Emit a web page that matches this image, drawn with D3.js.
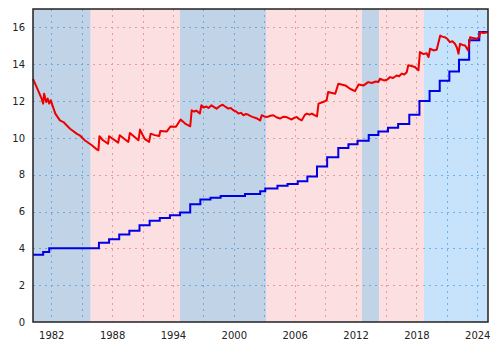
<!DOCTYPE html>
<html>
<head>
<meta charset="utf-8">
<script src="https://cdn.jsdelivr.net/npm/d3@7"></script>
<style>
  body { margin: 0; background: #fff; }
  text { font-family: "DejaVu Sans", sans-serif; font-size: 10px; fill: #222; }
</style>
</head>
<body>
<svg id="svg" width="500" height="350"></svg>
<script>
// nominal wage, steps (year the new rate starts)
var nomYears = [1980.2, 1981.2, 1981.8, 1986.7, 1987.7, 1988.7, 1989.7, 1990.7, 1991.7, 1992.7,
  1993.7, 1994.7, 1995.7, 1996.7, 1997.7, 1998.7, 2001.1, 2002.6, 2003.1, 2004.3,
  2005.3, 2006.3, 2007.25, 2008.2, 2009.2, 2010.3, 2011.3, 2012.2, 2013.3, 2014.25,
  2015.2, 2016.2, 2017.3, 2018.3, 2019.3, 2020.3, 2021.25, 2022.2, 2023.2, 2024.2, 2025.06];
var nomValues = [3.65, 3.80, 4.00, 4.30, 4.50, 4.75, 4.95, 5.25, 5.50, 5.65,
  5.80, 5.95, 6.40, 6.65, 6.75, 6.85, 6.95, 7.10, 7.25, 7.40,
  7.50, 7.65, 7.90, 8.45, 8.95, 9.45, 9.65, 9.85, 10.15, 10.35,
  10.55, 10.75, 11.25, 12.00, 12.55, 13.10, 13.60, 14.25, 15.30, 15.75, 15.75];

// real wage (inflation adjusted)
var realYears = [1980.2, 1980.7, 1981.05, 1981.2, 1981.3, 1981.5, 1981.65, 1981.8, 1981.95, 1982.4,
  1982.85, 1983.2, 1983.85, 1984.5, 1984.8, 1985.3, 1986.0, 1986.5, 1986.65, 1986.75,
  1987.1, 1987.6, 1987.7, 1988.6, 1988.75, 1989.6, 1989.75, 1990.6, 1990.75, 1991.2,
  1991.65, 1991.8, 1992.2, 1992.65, 1992.75, 1993.4, 1993.75, 1994.3, 1994.75, 1995.2,
  1995.7, 1995.85, 1996.1, 1996.3, 1996.65, 1996.8, 1997.0, 1997.3, 1997.5, 1997.8,
  1998.1, 1998.3, 1998.6, 1998.9, 1999.2, 1999.45, 1999.7, 1999.95, 2000.2, 2000.45,
  2000.7, 2000.95, 2001.2, 2001.4, 2001.65, 2001.9, 2002.3, 2002.6, 2002.75, 2003.0,
  2003.25, 2003.6, 2003.9, 2004.2, 2004.55, 2004.9, 2005.2, 2005.45, 2005.7, 2006.0,
  2006.2, 2006.45, 2006.7, 2007.0, 2007.2, 2007.45, 2007.7, 2008.0, 2008.2, 2008.35,
  2008.8, 2009.15, 2009.3, 2009.6, 2010.0, 2010.3, 2010.6, 2011.0, 2011.45, 2011.95,
  2012.3, 2012.8, 2013.25, 2013.6, 2014.0, 2014.25, 2014.4, 2014.8, 2015.1, 2015.4,
  2015.7, 2016.05, 2016.3, 2016.55, 2016.8, 2017.05, 2017.2, 2017.5, 2017.85, 2018.2,
  2018.35, 2018.7, 2019.0, 2019.2, 2019.35, 2019.7, 2020.0, 2020.35, 2020.55, 2020.8,
  2021.05, 2021.3, 2021.55, 2021.8, 2022.0, 2022.15, 2022.3, 2022.55, 2022.8, 2023.1,
  2023.3, 2023.6, 2023.9, 2024.2, 2024.3, 2024.6, 2025.06];
var realValues = [13.2, 12.58, 12.13, 11.86, 12.4, 11.95, 12.13, 11.86, 12.04, 11.32,
  10.95, 10.86, 10.5, 10.23, 10.14, 9.87, 9.6, 9.37, 9.33, 10.09,
  9.87, 9.69, 10.09, 9.74, 10.14, 9.78, 10.27, 9.87, 10.45, 9.95,
  9.78, 10.23, 10.15, 10.1, 10.38, 10.35, 10.62, 10.6, 11.0, 10.78,
  10.63, 11.5, 11.42, 11.48, 11.32, 11.77, 11.65, 11.7, 11.62, 11.77,
  11.66, 11.59, 11.72, 11.8, 11.68, 11.59, 11.62, 11.5, 11.44, 11.32,
  11.36, 11.23, 11.3, 11.26, 11.18, 11.13, 11.05, 10.95, 11.23, 11.17,
  11.13, 11.2, 11.23, 11.12, 11.05, 11.15, 11.13, 11.06, 11.0, 11.1,
  11.13, 11.02, 10.95, 11.25, 11.32, 11.26, 11.32, 11.22, 11.17, 11.86,
  11.95, 12.04, 12.49, 12.45, 12.4, 12.94, 12.9, 12.85, 12.67, 12.54,
  12.9, 12.85, 13.03, 12.98, 13.06, 13.03, 13.21, 13.12, 13.16, 13.3,
  13.25, 13.39, 13.35, 13.49, 13.44, 13.57, 13.94, 13.9, 13.85, 13.67,
  14.66, 14.55, 14.6, 14.39, 14.84, 14.75, 14.79, 15.56, 15.5, 15.47,
  15.38, 15.2, 15.25, 15.11, 14.9, 14.57, 15.11, 15.05, 15.02, 14.75,
  15.47, 15.42, 15.38, 15.47, 15.74, 15.7, 15.74];

// shaded periods
var bandStart = [1980.2, 1985.89, 1994.69, 2003.17, 2012.64, 2014.32, 2018.75];
var bandEnd = [1985.89, 1994.69, 2003.17, 2012.64, 2014.32, 2018.75, 2025.06];
var bandKind = ["b", "r", "b", "r", "b", "r", "lb"];

var xTicks = [1982, 1988, 1994, 2000, 2006, 2012, 2018, 2024];
var xGrid = d3.range(1982, 2025, 3);
var yTicks = [0, 2, 4, 6, 8, 10, 12, 14, 16];

var fill = { b: "#c1d3e6", r: "#fcdfe0", lb: "#c7e3fc" };
var gridCol = { b: "#6ea8e0", r: "#eb9a9a", lb: "#6cb2ee" };

var svg = d3.select("#svg");
var pl = 33, pr = 488, pt = 9, pb = 322;

var x = d3.scaleLinear().domain([1980.2, 2025.06]).range([pl, pr]);
var y = d3.scaleLinear().domain([0, 17]).range([pb, pt]);

var bands = bandStart.map(function(s, i) { return { s: s, e: bandEnd[i], k: bandKind[i] }; });

// backgrounds
svg.selectAll("rect.band").data(bands).enter().append("rect")
  .attr("class", "band")
  .attr("x", function(d) { return x(d.s); })
  .attr("y", pt)
  .attr("width", function(d) { return x(d.e) - x(d.s); })
  .attr("height", pb - pt)
  .attr("fill", function(d) { return fill[d.k]; });

// grid, coloured per band
var defs = svg.append("defs");
bands.forEach(function(b, i) {
  defs.append("clipPath").attr("id", "clip" + i).append("rect")
    .attr("x", x(b.s)).attr("y", pt)
    .attr("width", x(b.e) - x(b.s)).attr("height", pb - pt);
  var g = svg.append("g").attr("clip-path", "url(#clip" + i + ")")
    .attr("stroke", gridCol[b.k]).attr("stroke-width", 1).attr("stroke-dasharray", "2,4");
  g.selectAll("line.v").data(xGrid).enter().append("line")
    .attr("x1", function(d) { return Math.round(x(d)) + 0.5; })
    .attr("x2", function(d) { return Math.round(x(d)) + 0.5; })
    .attr("y1", pt).attr("y2", pb);
  g.selectAll("line.h").data(yTicks.slice(1)).enter().append("line")
    .attr("y1", function(d) { return Math.round(y(d)) + 0.5; })
    .attr("y2", function(d) { return Math.round(y(d)) + 0.5; })
    .attr("x1", pl).attr("x2", pr);
});

// lines
var nomData = nomYears.map(function(t, i) { return [t, nomValues[i]]; });
var realData = realYears.map(function(t, i) { return [t, realValues[i]]; });

svg.append("path").datum(nomData)
  .attr("fill", "none").attr("stroke", "#0000e6").attr("stroke-width", 2)
  .attr("d", d3.line().curve(d3.curveStepAfter)
    .x(function(d) { return x(d[0]); }).y(function(d) { return y(d[1]); }));

svg.append("path").datum(realData)
  .attr("fill", "none").attr("stroke", "#ee0000").attr("stroke-width", 2)
  .attr("stroke-linejoin", "round")
  .attr("d", d3.line()
    .x(function(d) { return x(d[0]); }).y(function(d) { return y(d[1]); }));

// frame
svg.append("rect")
  .attr("x", pl).attr("y", pt)
  .attr("width", pr - pl).attr("height", pb - pt)
  .attr("fill", "none").attr("stroke", "#222").attr("stroke-width", 1.5);

// axes (labels only)
var xAxis = d3.axisBottom(x).tickValues(xTicks).tickFormat(d3.format("d")).tickSize(0).tickPadding(10);
svg.append("g").attr("transform", "translate(0," + pb + ")").call(xAxis)
  .call(function(g) { g.select(".domain").remove(); })
  .selectAll("text").attr("font-family", "DejaVu Sans").attr("font-size", 10).attr("fill", "#222");

var yAxis = d3.axisLeft(y).tickValues(yTicks).tickSize(0).tickPadding(8);
svg.append("g").attr("transform", "translate(" + pl + ",0)").call(yAxis)
  .call(function(g) { g.select(".domain").remove(); })
  .selectAll("text").attr("font-family", "DejaVu Sans").attr("font-size", 10).attr("fill", "#222");
</script>
</body>
</html>
